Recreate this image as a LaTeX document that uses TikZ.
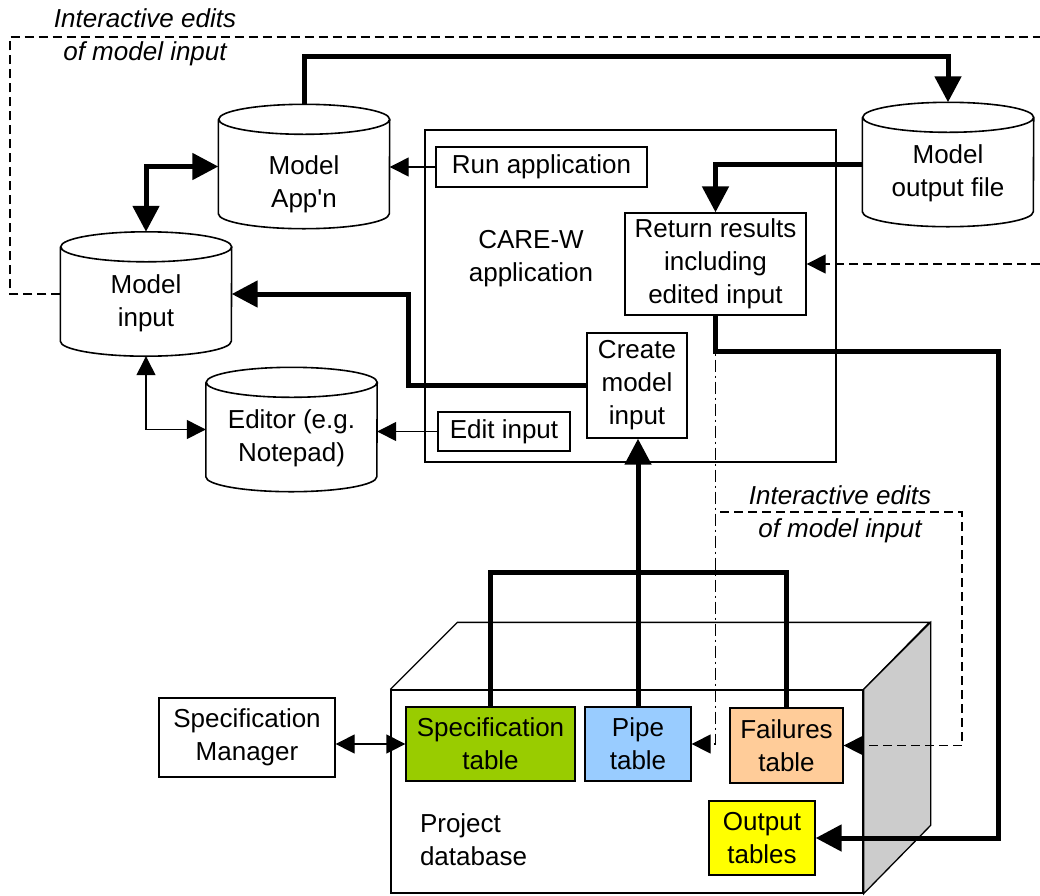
\documentclass[tikz,border=0pt]{standalone}
\usepackage{fontspec}
\setmainfont{Liberation Sans}
\usetikzlibrary{arrows.meta}
\definecolor{specgreen}{HTML}{99CC00}
\definecolor{pipeblue}{HTML}{99CCFF}
\definecolor{failorange}{HTML}{FFCC99}
\definecolor{outyellow}{HTML}{FFFF00}
\definecolor{sidegray}{HTML}{CCCCCC}
\tikzset{
  box/.style={draw, line width=1.3pt, inner sep=0pt, align=center},
  tbl/.style={box, fill=#1},
  dbcyl/.style={minimum width=171pt, minimum height=124pt, inner sep=0pt,
    append after command={\pgfextra{
      \draw[line width=1.6pt]
        ([yshift=-15pt]\tikzlastnode.north west) -- ([yshift=15pt]\tikzlastnode.south west)
        arc[start angle=180, end angle=360, x radius=85.5pt, y radius=15pt]
        -- ([yshift=-15pt]\tikzlastnode.north east)
        arc[start angle=0, end angle=360, x radius=85.5pt, y radius=15pt];}}},
  heavy/.style={line width=5pt, >={Triangle[length=26pt,width=26pt]}},
  light/.style={line width=1.3pt, >={Triangle[length=19pt,width=19pt]}},
  edits/.style={light, dash pattern=on 9pt off 5pt},
  dashdot/.style={light, dash pattern=on 12pt off 4pt on 2pt off 4pt},
  slanted/.style={font=\fontsize{26}{33}\selectfont\itshape, align=center},
}
\begin{document}
\begin{tikzpicture}[x=1pt,y=-1pt,font=\fontsize{26}{33}\selectfont]
\useasboundingbox (0,0) rectangle (1040,895);

% cylinders
\node[dbcyl, label={[align=center,yshift=-18pt]center:Model\\App\textquotesingle n}] (app) at (304,166.5) {};
\node[dbcyl, label={[align=center,yshift=-9pt]center:Model\\input}] (minput) at (146,294) {};
\node[dbcyl, label={[align=center,yshift=-9pt]center:Editor (e.g.\\Notepad)}] (editor) at (291.5,429.5) {};
\node[dbcyl, label={[align=center,yshift=-8.5pt]center:Model\\output file}] (moutput) at (948,164.5) {};

% CARE-W application
\node[box, minimum width=411pt, minimum height=332pt] (care) at (630.5,296) {};
\node[align=center] (caretxt) at (531,259) {CARE-W\\application};
\node[box, minimum width=211pt, minimum height=40pt] (run) at (541.5,167) {Run application};
\node[box, minimum width=132pt, minimum height=39pt] (edit) at (504,431.5) {Edit input};
\node[box, minimum width=100pt, minimum height=105pt] (create) at (637,385.5) {Create\\model\\input};
\node[box, minimum width=181pt, minimum height=102pt] (ret) at (715.5,264) {Return results\\including\\edited input};

\node[box, minimum width=176pt, minimum height=79pt] (specmgr) at (247,737.5) {Specification\\Manager};

% project database
\node[box, minimum width=472pt, minimum height=203pt] (db) at (627,791.5) {};
\draw[line width=1.3pt] (db.north west) -- ++(67,-67) -- ++(472,0) -- (db.north east);
\draw[line width=1.3pt, fill=sidegray] (db.north east) -- ++(67,-67) -- ++(0,203) -- (db.south east) -- cycle;
\node[align=left] (dbtxt) at (473.5,840) {Project\\database};
\node[tbl=specgreen, minimum width=169pt, minimum height=74pt] (spec) at (490.5,744) {Specification\\table};
\node[tbl=pipeblue, minimum width=106pt, minimum height=74pt] (pipe) at (638,744) {Pipe\\table};
\node[tbl=failorange, minimum width=113pt, minimum height=75pt] (fail) at (786.5,745.5) {Failures\\table};
\node[tbl=outyellow, minimum width=106pt, minimum height=74pt] (outtbl) at (762,838) {Output\\tables};

\node[slanted] (edtop) at (145,37) {Interactive edits\\of model input};
\node[slanted] (edmid) at (840,514) {Interactive edits\\of model input};

\coordinate (tlcorner) at (10,37);
\coordinate (trend) at (1040,37);
\coordinate (rdend) at (1040,264);
\coordinate (midstart) at (720,512);
\coordinate (midcorner) at (962,512);
\coordinate (outbend) at (998,838);

% edits
\draw[edits] (minput.west) -| (tlcorner) -- (trend);
\draw[edits,->] (rdend) -- (ret.east);
\draw[edits,->] (midstart) -- (midcorner) |- (fail.east);
\draw[dashdot,->] (ret.south) -- (ret.south |- pipe.east) -- (pipe.east);

\draw[light,->] (run.west) -- (run.west -| app.east);
\draw[light,->] (edit.west) -- (edit.west -| editor.east);
\draw[light,<->] (minput.south) |- (editor.west);
\draw[light,<->] (specmgr.east |- spec.west) -- (spec.west);

% data flow
\draw[heavy,->] (app.north) -- ++(0,-48) -| (moutput.north);
\draw[heavy,<->] (app.west) -| (minput.north);
\draw[heavy,->] (create.west) -- ++(-178,0) |- (minput.east);
\draw[heavy,->] (moutput.west) -| (ret.north);
\draw[heavy,->] (ret.south) -- ++(0,36) -| (outbend) -- (outtbl.east);
\draw[heavy] (spec.north) -- ++(0,-134) -| (fail.north);
\draw[heavy,->] (pipe.north) -- (pipe.north |- create.south);
\end{tikzpicture}
\end{document}
